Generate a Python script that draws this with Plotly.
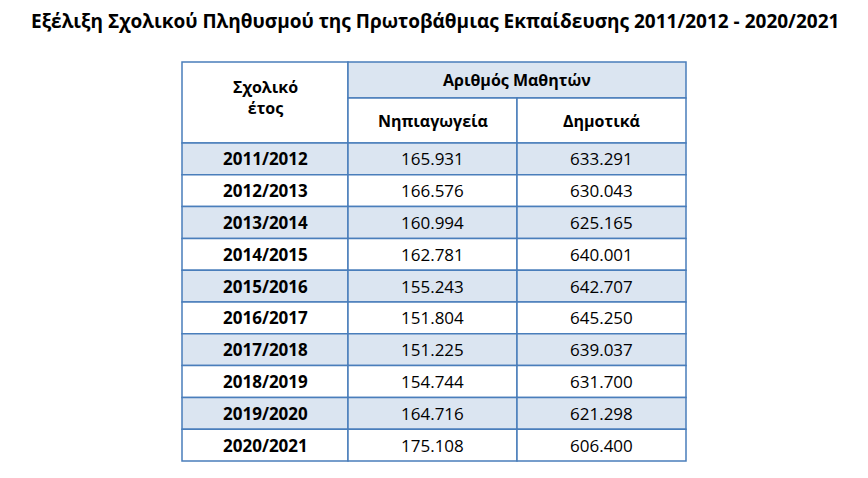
import plotly.graph_objects as go

title = "Εξέλιξη Σχολικού Πληθυσμού της Πρωτοβάθμιας Εκπαίδευσης 2011/2012 - 2020/2021"
years = ["2011/2012","2012/2013","2013/2014","2014/2015","2015/2016","2016/2017","2017/2018","2018/2019","2019/2020","2020/2021"]
nipiagogeia = ["165.931","166.576","160.994","162.781","155.243","151.804","151.225","154.744","164.716","175.108"]
dimotika = ["633.291","630.043","625.165","640.001","642.707","645.250","639.037","631.700","621.298","606.400"]

W, H = 868, 478
off = 7
cols = [181-off, 347-off, 516-off, 685-off]
top, h1, h2 = 61-off, 97-off, 142-off
rh = 31.8
border = "#4a7ebb"
shade = "#dbe5f1"
font = "Open Sans"

fig = go.Figure()
fig.add_trace(go.Scatter(x=[0, W], y=[0, H], mode="markers", marker=dict(opacity=0), hoverinfo="skip"))
shapes, ann = [], []

def rect(x0, y0, x1, y1, fill):
    shapes.append(dict(type="rect", xref="x", yref="y", x0=x0, y0=y0, x1=x1, y1=y1,
                       fillcolor=fill, line=dict(color=border, width=1.5), layer="below"))

def text(x, y, t, size=17, bold=False):
    ann.append(dict(x=x, y=y, xref="x", yref="y", text=f"<b>{t}</b>" if bold else t, showarrow=False,
                    font=dict(family=font, size=size, color="black")))

rect(cols[0], top, cols[1], h2, "white")
rect(cols[1], top, cols[3], h1, shade)
rect(cols[1], h1, cols[2], h2, "white")
rect(cols[2], h1, cols[3], h2, "white")
text((cols[0]+cols[1])/2, 96-off, "Σχολικό<br>έτος", 16, True)
text((cols[1]+cols[3])/2, 79-off, "Αριθμός Μαθητών", 16, True)
text((cols[1]+cols[2])/2, 120-off, "Νηπιαγωγεία", 16, True)
text((cols[2]+cols[3])/2, 120-off, "Δημοτικά", 16, True)

for i, (yr, n, d) in enumerate(zip(years, nipiagogeia, dimotika)):
    y0 = h2 + i*rh; y1 = y0 + rh
    fill = shade if i % 2 == 0 else "white"
    for c in range(3):
        rect(cols[c], y0, cols[c+1], y1, fill)
    ym = (y0+y1)/2
    text((cols[0]+cols[1])/2, ym, yr, 17, True)
    text((cols[1]+cols[2])/2, ym, n, 17)
    text((cols[2]+cols[3])/2, ym, d, 17)

text(W/2 - off, 20 - off, title, 19, True)

fig.update_layout(width=W, height=H, margin=dict(l=0, r=0, t=0, b=0), plot_bgcolor="white",
                  paper_bgcolor="white", shapes=shapes, annotations=ann, showlegend=False,
                  xaxis=dict(range=[0, W], visible=False, fixedrange=True),
                  yaxis=dict(range=[H, 0], visible=False, fixedrange=True))
fig.write_html("out.html")
